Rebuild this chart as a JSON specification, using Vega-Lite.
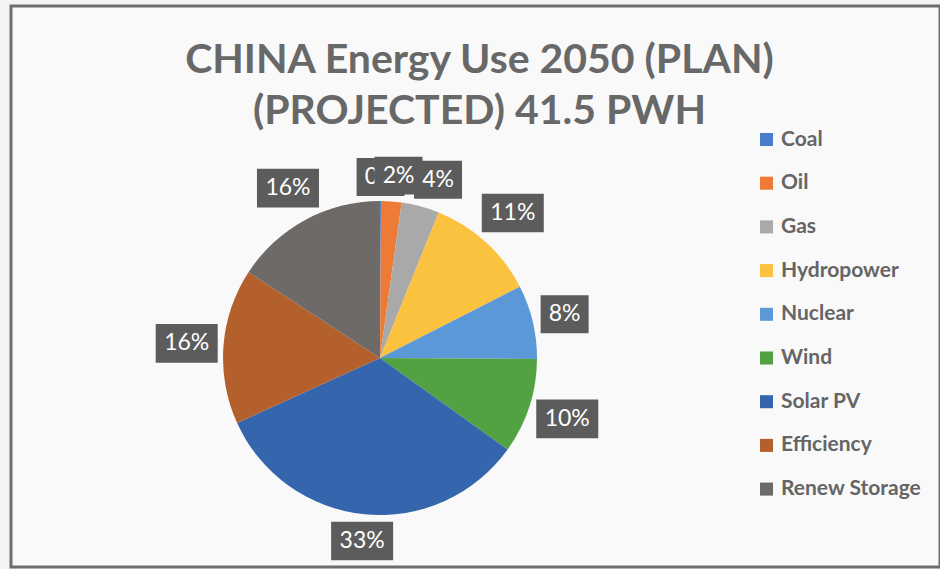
{
  "$schema": "https://vega.github.io/schema/vega-lite/v6.json",
  "width": 929,
  "height": 561,
  "autosize": {"type": "none"},
  "padding": {"left": 11, "top": 6, "right": 0, "bottom": 2},
  "background": "#f3f3f3",
  "config": {
    "view": {"stroke": "#6e6e6e", "strokeWidth": 3, "fill": "#f9f9f9"},
    "font": "Lato"
  },
  "title": {
    "text": ["CHINA Energy Use 2050 (PLAN)", "(PROJECTED) 41.5 PWH"],
    "font": "Lato",
    "fontSize": 41,
    "fontWeight": "bold",
    "color": "#686868",
    "anchor": "middle",
    "lineHeight": 51,
    "offset": -127,
    "dx": 4
  },
  "data": {
    "values": [
      {"source": "Coal", "value": 0.1},
      {"source": "Oil", "value": 2.1},
      {"source": "Gas", "value": 3.9},
      {"source": "Hydropower", "value": 11.4},
      {"source": "Nuclear", "value": 7.6},
      {"source": "Wind", "value": 9.8},
      {"source": "Solar PV", "value": 33.3},
      {"source": "Efficiency", "value": 16.0},
      {"source": "Renew Storage", "value": 15.8}
    ]
  },
  "transform": [
    {"window": [{"op": "row_number", "as": "order"}]},
    {"stack": "value", "groupby": [], "sort": [{"field": "order"}], "as": ["v0", "v1"]},
    {"calculate": "format(datum.value / 100, '.0%')", "as": "label"},
    {"calculate": "(datum.value < 5 && datum.value >= 1 ? datum.v0 + 0.72 * (datum.v1 - datum.v0) : (datum.v0 + datum.v1) / 2) / 100 * 2 * PI", "as": "ang"},
    {"calculate": "162 + (length(datum.label) > 2 ? 30.5 : 24) * abs(sin(datum.ang)) + 19 * abs(cos(datum.ang))", "as": "r"},
    {"calculate": "datum.r * sin(datum.ang)", "as": "px"},
    {"calculate": "datum.r * cos(datum.ang)", "as": "py"}
  ],
  "encoding": {},
  "layer": [
    {
      "mark": {"type": "arc", "outerRadius": 157, "stroke": null},
      "encoding": {
        "x": {"datum": 0, "type": "quantitative", "scale": {"domain": [-369, 560], "nice": false, "zero": false}, "axis": null},
        "y": {"datum": 0, "type": "quantitative", "scale": {"domain": [-209, 352], "nice": false, "zero": false}, "axis": null},
        "theta": {"field": "v0", "type": "quantitative", "scale": {"domain": [0, 100]}},
        "theta2": {"field": "v1"},
        "color": {
          "field": "source",
          "type": "nominal",
          "sort": ["Coal", "Oil", "Gas", "Hydropower", "Nuclear", "Wind", "Solar PV", "Efficiency", "Renew Storage"],
          "scale": {
            "domain": ["Coal", "Oil", "Gas", "Hydropower", "Nuclear", "Wind", "Solar PV", "Efficiency", "Renew Storage"],
            "range": ["#4a7ccc", "#ee7b35", "#a9a9a9", "#fbc23f", "#5a98d8", "#52a244", "#3465ad", "#b3602d", "#6d6a68"]
          },
          "legend": {
            "title": null,
            "orient": "none",
            "legendX": 745,
            "legendY": 123,
            "symbolType": "square",
            "symbolSize": 170,
            "symbolStrokeWidth": 0,
            "labelFont": "Lato",
            "labelFontSize": 21,
            "labelFontWeight": "bold",
            "labelColor": "#656565",
            "labelOffset": 4,
            "rowPadding": 21.7,
            "padding": 0,
            "labelLimit": 300
          }
        }
      }
    },
    {
      "transform": [{"filter": "datum.source === 'Coal'"}],
      "mark": {"type": "point", "filled": true, "color": "#5c5c5c", "opacity": 1, "strokeWidth": 0, "shape": "M-1,-0.79H1V0.79H-1Z", "size": 2304},
      "encoding": {
        "x": {"field": "px", "type": "quantitative"},
        "y": {"field": "py", "type": "quantitative"}
      }
    },
    {
      "transform": [{"filter": "datum.source === 'Coal'"}],
      "mark": {"type": "text", "font": "Lato", "fontSize": 23, "color": "white", "baseline": "middle", "align": "center"},
      "encoding": {
        "x": {"field": "px", "type": "quantitative"},
        "y": {"field": "py", "type": "quantitative"},
        "text": {"field": "label"}
      }
    },
    {
      "transform": [{"filter": "datum.source !== 'Coal'"}],
      "mark": {"type": "point", "filled": true, "color": "#5c5c5c", "opacity": 1, "strokeWidth": 0},
      "encoding": {
        "x": {"field": "px", "type": "quantitative"},
        "y": {"field": "py", "type": "quantitative"},
        "shape": {
          "condition": {"test": "length(datum.label) > 2", "value": "M-1,-0.623H1V0.623H-1Z"},
          "value": "M-1,-0.79H1V0.79H-1Z"
        },
        "size": {
          "condition": {"test": "length(datum.label) > 2", "value": 3844},
          "value": 2304
        }
      }
    },
    {
      "transform": [{"filter": "datum.source !== 'Coal'"}],
      "mark": {"type": "text", "font": "Lato", "fontSize": 23, "color": "white", "baseline": "middle", "align": "center"},
      "encoding": {
        "x": {"field": "px", "type": "quantitative"},
        "y": {"field": "py", "type": "quantitative"},
        "text": {"field": "label"}
      }
    }
  ]
}
